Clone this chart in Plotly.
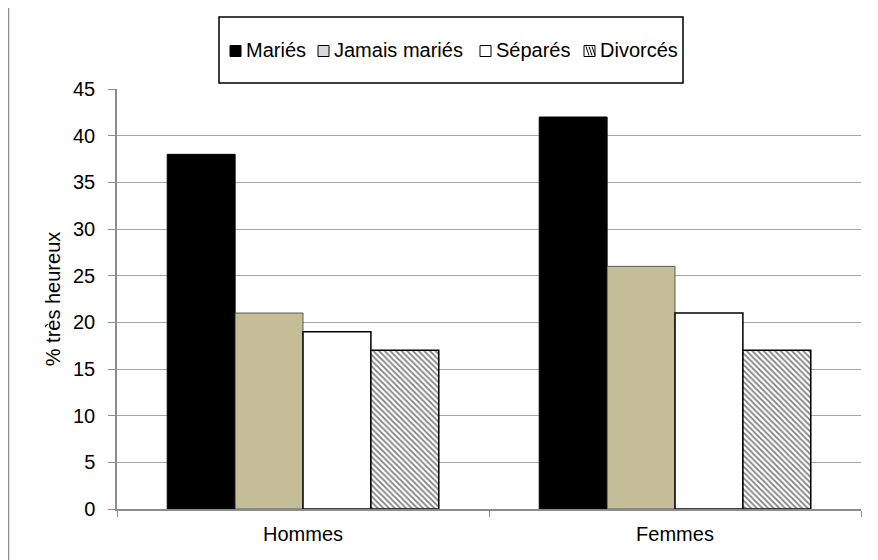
import plotly.graph_objects as go

categories = ["Hommes", "Femmes"]
series_names = ["Mariés", "Jamais mariés", "Séparés", "Divorcés"]
maries = [38, 42]
jamais_maries = [21, 26]
separes = [19, 21]
divorces = [17, 17]
y_ticks = [0, 5, 10, 15, 20, 25, 30, 35, 40, 45]

FONT = "Liberation Sans, Arial, sans-serif"
FS = 20

colors = ["#000000", "#C4BD97", "#FFFFFF", "#FFFFFF"]
hatch = dict(shape="\\", fgcolor="#000000", bgcolor="#FFFFFF", size=4, solidity=0.45)

fig = go.Figure()
fig.add_trace(go.Bar(name=series_names[0], x=categories, y=maries, showlegend=False,
                     marker=dict(color=colors[0], line=dict(color="#000000", width=1))))
fig.add_trace(go.Bar(name=series_names[1], x=categories, y=jamais_maries, showlegend=False,
                     marker=dict(color=colors[1], line=dict(color="#3a3a3a", width=0.8))))
fig.add_trace(go.Bar(name=series_names[2], x=categories, y=separes, showlegend=False,
                     marker=dict(color=colors[2], line=dict(color="#000000", width=1.5))))
fig.add_trace(go.Bar(name=series_names[3], x=categories, y=divorces, showlegend=False,
                     marker=dict(color=colors[3], line=dict(color="#000000", width=1.5),
                                 pattern=hatch)))

OFF = 8  # browser body margin
W, H = 878 - OFF, 560 - OFF
# plot area in page pixels: x 117..861, y 89..509
L, R, T, B = 117 - OFF, 878 - 861, 89 - OFF, 560 - 509
pw, ph = W - L - R, H - T - B

def px_x(x):
    return (x - OFF - L) / pw

def px_y(y):
    return (H - B - (y - OFF)) / ph

shapes = [
    dict(type="rect", xref="paper", yref="paper",
         x0=px_x(8.5), x1=px_x(890), y0=px_y(570), y1=px_y(4),
         line=dict(color="#8c8c8c", width=1.5), fillcolor="rgba(0,0,0,0)", layer="below"),
    dict(type="rect", xref="paper", yref="paper",
         x0=px_x(219), x1=px_x(683), y0=px_y(83), y1=px_y(17),
         line=dict(color="#000000", width=1.5), fillcolor="rgba(0,0,0,0)"),
]

annotations = []
swatch_x = [230, 318, 480, 584]
text_x = [244, 332, 494, 598]
leg_y = 50
for i, name in enumerate(series_names):
    sw = dict(type="rect", xref="paper", yref="paper",
              x0=px_x(swatch_x[i]), x1=px_x(swatch_x[i] + 11),
              y0=px_y(leg_y + 6.5), y1=px_y(leg_y - 4.5),
              line=dict(color="#000000", width=1), fillcolor=colors[i] if i != 1 else "#D9D9D9")
    shapes.append(sw)
    annotations.append(dict(xref="paper", yref="paper", x=px_x(text_x[i]), y=px_y(leg_y),
                            xanchor="left", yanchor="middle", text=name, showarrow=False,
                            font=dict(family=FONT, size=FS, color="#000000")))
# hatch marks inside the Divorcés swatch
for k in range(3):
    shapes.append(dict(type="line", xref="paper", yref="paper",
                       x0=px_x(swatch_x[3] + 2 + k * 3), y0=px_y(leg_y - 3.5),
                       x1=px_x(swatch_x[3] + 5 + k * 3), y1=px_y(leg_y + 5.5),
                       line=dict(color="#000000", width=1)))

fig.update_layout(
    width=W, height=H,
    margin=dict(l=L, r=R, t=T, b=B, pad=0),
    paper_bgcolor="white", plot_bgcolor="white",
    font=dict(family=FONT, size=FS, color="#000000"),
    barmode="group", bargap=0.27, bargroupgap=0,
    showlegend=False,
    shapes=shapes,
    annotations=annotations,
    xaxis=dict(type="category", showgrid=False, showline=True, linecolor="#8c8c8c", linewidth=1.5,
               ticks="outside", tickson="boundaries", ticklen=6, tickcolor="#8c8c8c",
               ticklabelstandoff=6, tickfont=dict(family=FONT, size=FS)),
    yaxis=dict(range=[0, 45], tickvals=y_ticks, showgrid=True, gridcolor="#a6a6a6", gridwidth=1.3,
               showline=True, linecolor="#8c8c8c", linewidth=1.5, ticks="outside", ticklen=7,
               tickcolor="#8c8c8c", ticklabelstandoff=9, tickfont=dict(family=FONT, size=FS),
               zeroline=False,
               title=dict(text="% très heureux", font=dict(family=FONT, size=FS), standoff=7)),
)

fig.write_html("out.html")
